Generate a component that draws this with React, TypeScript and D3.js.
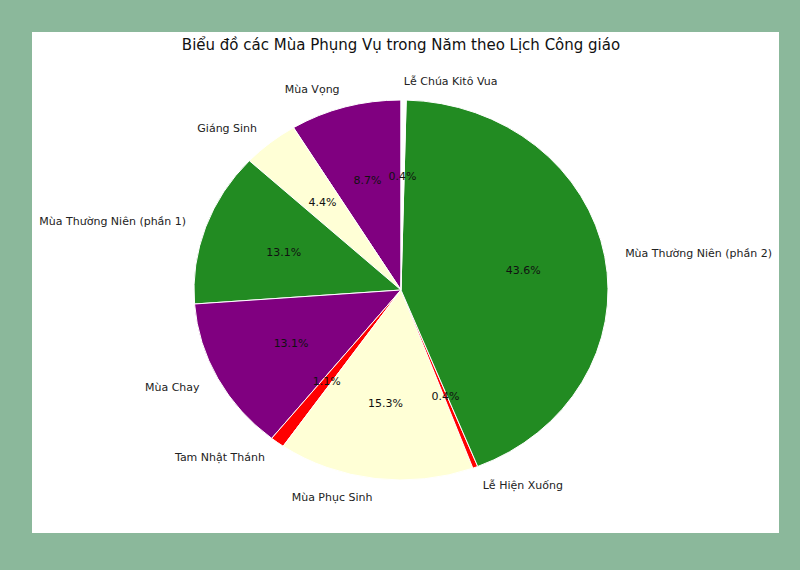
import React from 'react';
import * as d3 from 'd3';

// Liturgical seasons, in the order they are drawn (counter-clockwise from the top)
const seasons = [
  'Mùa Vọng',
  'Giáng Sinh',
  'Mùa Thường Niên (phần 1)',
  'Mùa Chay',
  'Tam Nhật Thánh',
  'Mùa Phục Sinh',
  'Lễ Hiện Xuống',
  'Mùa Thường Niên (phần 2)',
  'Lễ Chúa Kitô Vua',
];
const shares = [8.7, 4.4, 13.1, 13.1, 1.1, 15.3, 0.4, 43.6, 0.4];
const colors = [
  '#800080',
  '#ffffd6',
  '#228b22',
  '#800080',
  '#ff0000',
  '#ffffd6',
  '#ff0000',
  '#228b22',
  '#ffffff',
];
const title = 'Biểu đồ các Mùa Phụng Vụ trong Năm theo Lịch Công giáo';

const W = 800;
const H = 570;
const cx = 401;
const cy = 290;
const rx = 207;
const ry = 190;

const App: React.FC = () => {
  const data = seasons.map((name, i) => ({ name, value: shares[i], color: colors[i] }));

  const pie = d3.pie<{ name: string; value: number; color: string }>()
    .sort(null)
    .value(d => d.value)
    .startAngle(0)
    .endAngle(-2 * Math.PI);
  const arcs = pie(data);

  const arc = d3.arc<d3.PieArcDatum<{ name: string; value: number; color: string }>>()
    .innerRadius(0)
    .outerRadius(ry);

  const pos = (a: number, k: number) => ({
    x: cx + k * rx * Math.sin(a),
    y: cy - k * ry * Math.cos(a),
  });

  return (
    <div style={{ position: 'fixed', left: 0, top: 0, width: W, height: H }}>
      <svg width={W} height={H} style={{ display: 'block' }} fontFamily="DejaVu Sans, sans-serif">
        <rect x={0} y={0} width={W} height={H} fill="#8bb89b" />
        <rect x={32} y={32} width={747} height={501} fill="#ffffff" />

        <text x={401} y={45} dy="0.35em" textAnchor="middle" fontSize={15} fill="#111">
          {title}
        </text>

        <g transform={`translate(${cx},${cy}) scale(${rx / ry},1)`}>
          {arcs.map((a, i) => (
            <path
              key={i}
              d={arc(a) || ''}
              fill={a.data.color}
              stroke="#ffffff"
              strokeWidth={1}
              vectorEffect="non-scaling-stroke"
            />
          ))}
        </g>

        {arcs.map((a, i) => {
          const mid = (a.startAngle + a.endAngle) / 2;
          const lp = pos(mid, 1.1);
          const pp = pos(mid, 0.6);
          return (
            <g key={i}>
              <text
                x={lp.x}
                y={lp.y}
                dy="0.35em"
                textAnchor={Math.sin(mid) > 0 ? 'start' : 'end'}
                fontSize={11}
                fill="#222"
              >
                {a.data.name}
              </text>
              <text x={pp.x} y={pp.y} dy="0.35em" textAnchor="middle" fontSize={11} fill="#111">
                {`${a.data.value.toFixed(1)}%`}
              </text>
            </g>
          );
        })}
      </svg>
    </div>
  );
};

export default App;
